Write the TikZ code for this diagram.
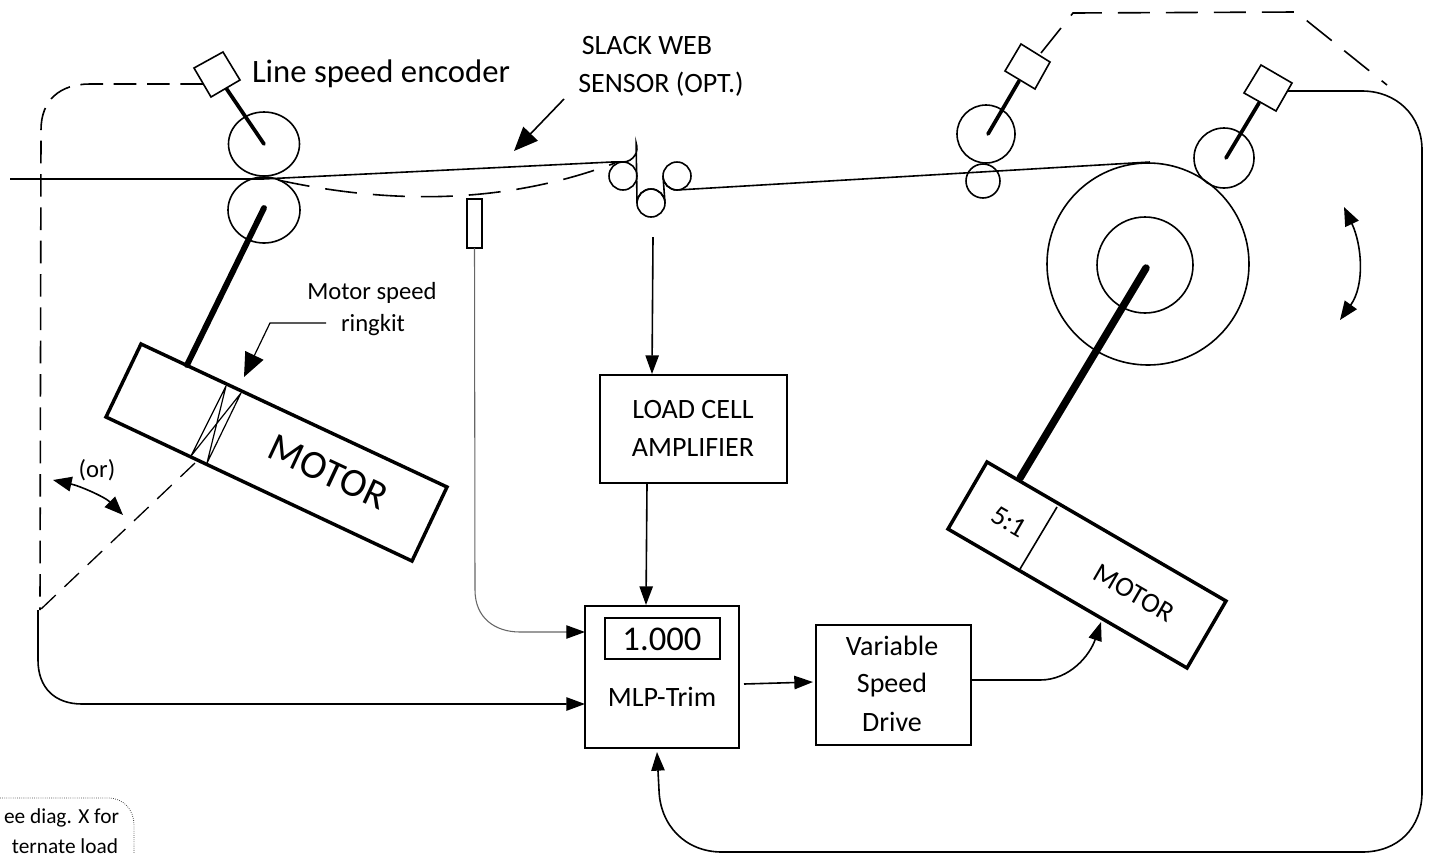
\documentclass[tikz,border=0pt]{standalone}
\usepackage{fontspec}
\setmainfont{Carlito}
\usetikzlibrary{arrows.meta}
\tikzset{
  every node/.style={font=\fontsize{21}{21}\selectfont, inner sep=0pt, outer sep=0pt, align=center},
  ln/.style={line width=1.2pt, draw=black},
  thin ln/.style={line width=0.9pt, draw=black},
  bold/.style={line width=2.6pt, draw=black, line join=miter},
  shaftA/.style={line width=2.8pt, draw=black, line cap=round},
  shaftB/.style={line width=4.4pt, draw=black, line cap=round},
  shaftC/.style={line width=5.6pt, draw=black, line cap=round},
  tip/.style={-{Triangle[length=14pt,width=10pt]}},
  bigtip/.style={-{Triangle[length=18pt,width=15pt]}},
  dtip/.style={{Triangle[length=14pt,width=11pt]}-{Triangle[length=14pt,width=11pt]}},
  dashA/.style={line width=1.2pt, draw=black, dash pattern=on 17pt off 8pt},
  dashB/.style={line width=1.2pt, draw=black, dash pattern=on 24pt off 12pt},
  dashC/.style={line width=1pt, draw=black, dash pattern=on 15pt off 9pt},
  boxn/.style={draw=black, line width=1.2pt, anchor=north west},
  small/.style={font=\fontsize{18.5}{18.5}\selectfont},
}
\begin{document}
\begin{tikzpicture}[x=0.75pt,y=-0.75pt]
\useasboundingbox (0,0) rectangle (1431,854);

% coordinates
\coordinate (enc1s) at (226,88);
\coordinate (enc1c) at (264,144);
\coordinate (rol2c) at (264,208);
\coordinate (mot1s) at (187,365);
\coordinate (webL) at (10,179);
\coordinate (nip) at (263,179);
\coordinate (webR) at (612,162);
\coordinate (dashStart) at (278,180);
\coordinate (dashEnd) at (615,163);

% left rollers
\draw[ln] (264,144) ellipse [x radius=35.5, y radius=32];
\draw[ln] (264,210) ellipse [x radius=36, y radius=33];
\draw[shaftA] (enc1c) -- (enc1s);
\draw[shaftB] (rol2c) -- (mot1s);
\draw[ln,fill=white] (223,52) -- (240,80) -- (211,97) -- (194,68) -- cycle;

% web
\draw[ln] (webL) -- (nip) -- (webR) -- (623,162)
  arc[start angle=90,end angle=-20,radius=14] -- (637,203)
  arc[start angle=180,end angle=360,radius=14] -- (663,176)
  arc[start angle=180,end angle=90,radius=14] -- (1150,162);
\draw[ln] (623,176) circle [radius=14];
\draw[ln] (651,203) circle [radius=14];
\draw[ln] (677,176) circle [radius=14];
\draw[dashB] (dashStart) .. controls (370,200) and (490,210) .. (dashEnd);

% motor 1
\draw[bold] (141,344) -- (447,487) -- (412,561) -- (106,417) -- cycle;
\draw[thin ln] (226,386) -- (191,456) (241,393) -- (207,463) (226,386) -- (207,463) (241,393) -- (191,456);
\node[rotate=-25, font=\fontsize{30}{30}\selectfont] (mot1) at (328,472) {MOTOR};

% ringkit
\node[small] (mspeed) at (372,293) {Motor speed};
\node[small] (ringkit) at (373,325) {ringkit};
\coordinate (rk0) at (326,323);
\coordinate (rk1) at (270,323);
\coordinate (rk2) at (244,377);
\draw[thin ln,bigtip] (rk0) -- (rk1) -- (rk2);

% encoder dashed return
\coordinate (enc1out) at (203,84);
\coordinate (junc) at (40,610);
\draw[dashA] (enc1out) -- (90,84) .. controls (60,84) and (41,100) .. (41,130) -- (40,610);
\coordinate (ring) at (195,463);
\draw[dashC] (ring) -- (junc);

% (or) arrow
\coordinate (orA) at (53,480);
\coordinate (orB) at (123,515);
\draw[ln,dtip] (orA) .. controls (80,486) and (105,497) .. (orB);
\node[small] (ortext) at (97,470) {(or)};

\node[anchor=west, font=\fontsize{24.5}{24.5}\selectfont] (lse) at (252,74) {Line speed encoder};

% slack web sensor
\node[font=\fontsize{21}{21}\selectfont] (slack1) at (647,46) {SLACK WEB};
\node[font=\fontsize{21}{21}\selectfont] (slack2) at (661,84) {SENSOR (OPT.)};
\coordinate (sl0) at (564,99);
\coordinate (sl1) at (514,151);
\draw[ln,bigtip] (sl0) -- (sl1);

% sensor
\node[boxn, minimum width=15*0.75pt, minimum height=49*0.75pt] (sens) at (467,199) {};
\coordinate (mlpIn1) at (585,632);
\draw[line width=0.8pt, draw=black!60!white] (sens.south) -- (475,590) .. controls (475,618) and (495,632) .. (520,632) -- (570,632);
\draw[thin ln,tip] (570,632) -- (mlpIn1);

% load cell
\coordinate (lc0) at (653,237);
\node[boxn, minimum width=187*0.75pt, minimum height=108*0.75pt] (lc) at (600,375) {};
\node (lct1) at (693,410) {LOAD CELL};
\node (lct2) at (693,448) {AMPLIFIER};
\draw[ln,tip] (lc0) -- (652,374);

% MLP
\node[boxn, minimum width=154*0.75pt, minimum height=142*0.75pt] (mlp) at (585,606) {};
\draw[ln,tip] (647,484) -- (646,605);
\node[boxn, minimum width=115*0.75pt, minimum height=41*0.75pt] (disp) at (605,618) {};
\node[font=\fontsize{26}{26}\selectfont] (val) at (662,639) {1.000};
\node (mlpt) at (662,697) {MLP-Trim};

% VSD
\node[boxn, minimum width=155*0.75pt, minimum height=120*0.75pt] (vsd) at (816,625) {};
\node (v1) at (892,646) {Variable};
\node (v2) at (892,685) {Speed};
\node (v3) at (892,722) {Drive};
\draw[ln,tip] (744,684) -- (813,682);
\coordinate (m2in) at (1101,622);
\draw[ln,tip] (972,680) -- (1040,680) .. controls (1070,680) and (1090,655) .. (m2in);

% left feedback
\draw[ln,tip] (junc) ++(-2,0) -- (38,660) .. controls (38,688) and (55,704) .. (82,704) -- (585,704);

% right rollers
\draw[ln] (986,134) circle [radius=29];
\draw[ln] (983,181) circle [radius=17];
\draw[shaftA] (988,134) -- (1019,81);
\draw[ln,fill=white] (1021,44) -- (1050,62) -- (1035,89) -- (1005,71) -- cycle;
\draw[ln] (1224,158) circle [radius=30];
\draw[shaftA] (1226,158) -- (1259,103);
\draw[ln,fill=white] (1261,65) -- (1292,83) -- (1276,111) -- (1244,93) -- cycle;

% big roll
\draw[ln] (1148,264) circle [radius=101];
\draw[ln] (1145,265) circle [radius=48];
\coordinate (m2s) at (1020,478);
\draw[shaftC] (1146,268) -- (m2s);

% motor 2
\draw[bold] (987,462) -- (1226,601) -- (1187,668) -- (948,529) -- cycle;
\draw[ln] (1057,507) -- (1020,569);
\node[rotate=-30] (ratio) at (1009,522) {5:1};
\node[rotate=-30] (mot2) at (1134,593) {MOTOR};

% top dashed
\draw[dashB] (1041,53) -- (1073,13) -- (1296,12) -- (1387,85);

% right feedback
\coordinate (fb0) at (1288,91);
\draw[ln,tip] (fb0) -- (1362,91) .. controls (1396,91) and (1422,115) .. (1422,150)
  -- (1422,792) .. controls (1422,828) and (1398,852) .. (1362,852)
  -- (722,852) .. controls (685,852) and (660,825) .. (659,790) -- (657,752);

% double arrow
\coordinate (dA) at (1344,207);
\coordinate (dB) at (1340,320);
\draw[ln,dtip] (dA) .. controls (1362,245) and (1365,285) .. (dB);

% note box
\draw[line width=0.6pt, draw=black!70, densely dotted] (0,798) -- (108,798) .. controls (124,798) and (134,810) .. (134,825) -- (134,854);
\node[anchor=east, font=\fontsize{16}{16}\selectfont] (n1) at (119,818) {ee diag. X for};
\node[anchor=east, font=\fontsize{16}{16}\selectfont] (n2) at (118,846) {ternate load};
\end{tikzpicture}
\end{document}
